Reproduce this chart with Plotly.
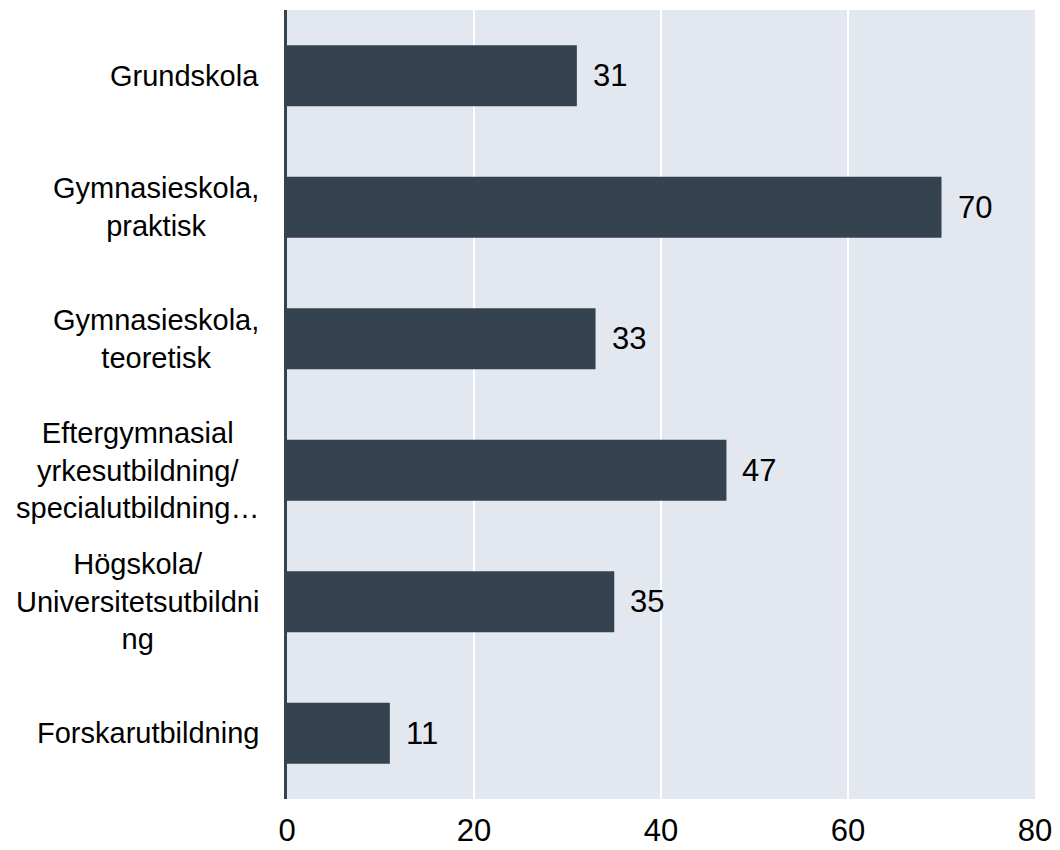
import plotly.graph_objects as go

categories = [
    "Grundskola",
    "Gymnasieskola,<br>praktisk",
    "Gymnasieskola,<br>teoretisk",
    "Eftergymnasial<br>yrkesutbildning/<br>specialutbildning…",
    "Högskola/<br>Universitetsutbildni<br>ng",
    "Forskarutbildning",
]
values = [31, 70, 33, 47, 35, 11]
x_ticks = [0, 20, 40, 60, 80]

BAR = "#35424F"
BG = "#E3E7EF"
FONT = "Liberation Sans, Arial, sans-serif"

ids = list(range(len(categories)))

fig = go.Figure()
fig.add_trace(go.Bar(
    x=values, y=ids, orientation="h",
    marker=dict(color=BAR, line=dict(width=0)),
    hoverinfo="skip",
))

annotations = []
for i, (c, v) in enumerate(zip(categories, values)):
    annotations.append(dict(
        x=0, xref="paper", y=i, yref="y", text=c,
        xanchor="right", yanchor="middle", align="center",
        xshift=-26, showarrow=False,
        font=dict(family=FONT, size=29, color="#000000"),
    ))
    annotations.append(dict(
        x=v, xref="x", y=i, yref="y", text=str(v),
        xanchor="left", yanchor="middle", xshift=14, showarrow=False,
        font=dict(family=FONT, size=31, color="#000000"),
    ))

fig.update_layout(
    width=1052, height=842,
    margin=dict(l=279, r=25, t=2, b=44),
    paper_bgcolor="white", plot_bgcolor=BG,
    bargap=0.535, showlegend=False,
    annotations=annotations,
    xaxis=dict(
        range=[0, 80], tickvals=x_ticks, ticktext=[str(t) for t in x_ticks],
        showgrid=True, gridcolor="white", gridwidth=2,
        zeroline=False, showline=False, ticks="",
        tickfont=dict(family=FONT, size=31, color="#000000"),
        ticklabelstandoff=10,
    ),
    yaxis=dict(
        range=[len(categories) - 0.5, -0.5],
        showticklabels=False, showgrid=False, zeroline=False,
        showline=True, linecolor=BAR, linewidth=3, ticks="",
    ),
)

fig.write_html("out.html")
